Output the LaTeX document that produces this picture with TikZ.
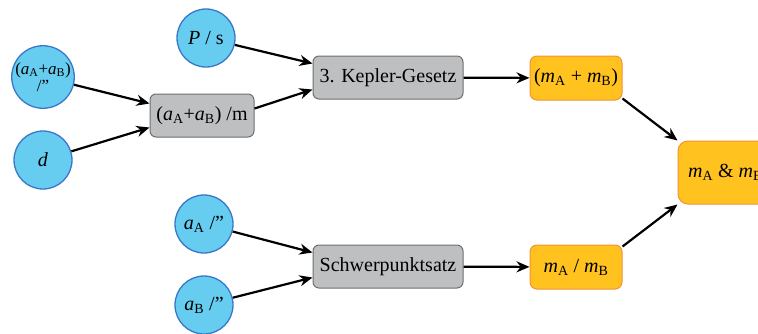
\documentclass[tikz,border=0pt]{standalone}
\usepackage{fontspec}
\setmainfont{Liberation Serif}
\usetikzlibrary{arrows.meta}
\definecolor{qfill}{HTML}{66CCF0}
\definecolor{qline}{HTML}{3A77C8}
\definecolor{gfill}{HTML}{BEBFC1}
\definecolor{gline}{HTML}{6E6F71}
\definecolor{ofill}{HTML}{FFC21F}
\definecolor{oline}{HTML}{F39234}
\newcommand\lo[1]{\textsubscript{#1}}
\newcommand\arcsec{\symbol{"22}}
\tikzset{
  qty/.style={circle, draw=qline, fill=qfill, line width=1.3pt, minimum size=58pt, inner sep=0pt, align=center},
  law/.style={rectangle, rounded corners=6pt, draw=gline, fill=gfill, line width=1pt, minimum height=43pt, inner sep=0pt},
  res/.style={rectangle, rounded corners=7pt, draw=oline, fill=ofill, line width=1pt, minimum height=44pt, minimum width=92pt, inner sep=0pt},
  flow/.style={-{Stealth[length=13pt,width=11pt]}, line width=2.2pt, black},
}
\begin{document}
\begin{tikzpicture}[x=1pt,y=-1pt,font=\fontsize{20}{24}\selectfont]
\useasboundingbox (0,0) rectangle (758,333);
\clip (0,0) rectangle (758,333);
% input quantities
\node[qty, font=\fontsize{17}{17}\selectfont] (sumang) at (43,77) {(\textit{a}\lo{A}+\textit{a}\lo{B})\\/\arcsec};
\node[qty] (dist) at (43,160) {\textit{d}};
\node[qty] (period) at (206,38) {\textit{P} / s};
\node[qty] (angA) at (204,224) {\textit{a}\lo{A} /\arcsec};
\node[qty] (angB) at (204,305) {\textit{a}\lo{B} /\arcsec};
% laws and intermediate steps
\node[law, minimum width=104pt] (summ) at (202,115.5) {(\textit{a}\lo{A}+\textit{a}\lo{B}) /m};
\node[law, minimum width=150pt] (kepler) at (388,77.5) {3. Kepler-Gesetz};
\node[law, minimum width=150pt] (centre) at (388,266.5) {Schwerpunktsatz};
% results
\node[res] (msum) at (576,78) {(\textit{m}\lo{A} + \textit{m}\lo{B})};
\node[res] (mratio) at (576,267) {\textit{m}\lo{A} / \textit{m}\lo{B}};
\node[res, rounded corners=10pt, minimum width=95pt, minimum height=63pt] (mboth) at (725.5,172.5) {\textit{m}\lo{A} \& \textit{m}\lo{B}};
% connectors
\draw[flow] (sumang) -- ([yshift=12pt]summ.west);
\draw[flow] (dist) -- ([yshift=-12pt]summ.west);
\draw[flow] (period) -- ([yshift=14pt]kepler.west);
\draw[flow] ([yshift=7pt]summ.east) -- ([yshift=-12pt]kepler.west);
\draw[flow] (angA) -- ([yshift=14pt]centre.west);
\draw[flow] (angB) -- ([yshift=-11pt]centre.west);
\draw[flow] (kepler) -- (msum);
\draw[flow] (centre) -- (mratio);
\draw[flow] ([yshift=2pt]msum.south east) -- (mboth.north west);
\draw[flow] ([yshift=-2pt]mratio.north east) -- (mboth.south west);
\end{tikzpicture}
\end{document}
